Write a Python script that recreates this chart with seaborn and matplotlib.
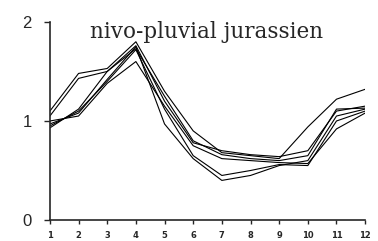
import numpy as np
import pandas as pd
import matplotlib
matplotlib.use("Agg")
import matplotlib.pyplot as plt
import seaborn as sns

months = list(range(1, 13))
s1 = [1.10, 1.48, 1.53, 1.80, 1.30, 0.90, 0.68, 0.65, 0.62, 0.94, 1.22, 1.32]
s2 = [1.05, 1.43, 1.50, 1.76, 1.20, 0.78, 0.70, 0.66, 0.64, 0.70, 1.10, 1.15]
s3 = [0.97, 1.08, 1.42, 1.75, 0.97, 0.62, 0.40, 0.45, 0.55, 0.60, 1.05, 1.12]
s4 = [0.95, 1.10, 1.40, 1.72, 1.12, 0.65, 0.45, 0.50, 0.56, 0.55, 1.00, 1.10]
s5 = [1.00, 1.05, 1.38, 1.60, 1.15, 0.75, 0.62, 0.60, 0.58, 0.57, 0.92, 1.08]
s6 = [0.93, 1.12, 1.50, 1.73, 1.25, 0.80, 0.66, 0.62, 0.60, 0.65, 1.12, 1.13]
series = {"s1": s1, "s2": s2, "s3": s3, "s4": s4, "s5": s5, "s6": s6}
title = "nivo-pluvial jurassien"

rows = []
for name, vals in series.items():
    for m, v in zip(months, vals):
        rows.append({"mois": m, "valeur": v, "serie": name})
df = pd.DataFrame(rows)

sns.set_style("ticks")
fig = plt.figure(figsize=(3.78, 2.41), dpi=100)
ax = fig.add_axes([0.132, 0.087, 0.834, 0.822])
sns.lineplot(data=df, x="mois", y="valeur", hue="serie",
             palette=["black"] * 6, linewidth=0.8, legend=False, ax=ax)

ax.set_xlim(1, 12)
ax.set_ylim(0, 2)
ax.set_xticks(months)
ax.set_xticklabels([str(m) for m in months], fontsize=6, fontweight="bold")
ax.set_yticks([0, 1, 2])
ax.set_yticklabels(["0", "1", "2"], fontsize=12, family="Liberation Sans")
ax.tick_params(axis="x", length=3, width=1, pad=5, direction="out")
ax.tick_params(axis="y", length=4, width=1, pad=9)
ax.set_xlabel("")
ax.set_ylabel("")
sns.despine(ax=ax)
for sp in ["left", "bottom"]:
    ax.spines[sp].set_linewidth(1.2)
ax.text(6.45, 1.9, title, ha="center", va="center",
        fontsize=15.5, family="DejaVu Serif")

fig.savefig("out.png", dpi=100)
